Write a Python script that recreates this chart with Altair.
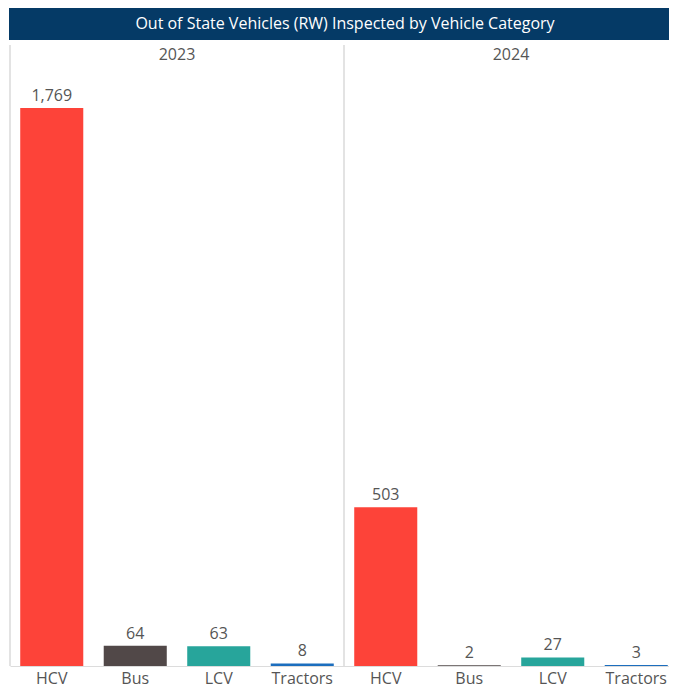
import altair as alt
import pandas as pd

title_text = ["Out of State Vehicles (RW) Inspected by Vehicle Category"]
year_labels = ["2023", "2024"]
years = ["2023", "2023", "2023", "2023", "2024", "2024", "2024", "2024"]
categories = ["HCV", "Bus", "LCV", "Tractors", "HCV", "Bus", "LCV", "Tractors"]
counts = [1769, 64, 63, 8, 503, 2, 27, 3]
cat_order = ["HCV", "Bus", "LCV", "Tractors"]
cat_colors = ["#FD4339", "#514848", "#27A59B", "#1C6EBE"]

df = pd.DataFrame({"Year": years, "Category": categories, "Count": counts})
df["Key"] = df["Year"] + "|" + df["Category"]
key_order = list(df["Key"])
ydf = pd.DataFrame({"Year": year_labels})
tdf = pd.DataFrame({"t": title_text})

FONT = "Open Sans"
GREY = "#555555"
W = 660
H = 600
XR = [1, 669]

title_bar = alt.Chart(tdf).mark_rect(color="#053A66").encode(
    x=alt.value(0), x2=alt.value(W + 8), y=alt.value(-58), y2=alt.value(-26)
)
title_txt = alt.Chart(tdf).mark_text(
    color="white", font=FONT, fontSize=16, align="center", baseline="middle"
).encode(text="t:N", x=alt.value(336), y=alt.value(-42))

yscale = alt.Scale(domain=year_labels, range=XR, paddingInner=0, paddingOuter=0)
sep = alt.Chart(ydf).mark_rule(color="#e3e3e3", strokeWidth=2).encode(
    x=alt.X("Year:N", scale=yscale, axis=None, bandPosition=0),
    y=alt.value(-21), y2=alt.value(H),
)
header = alt.Chart(ydf).mark_text(
    font=FONT, fontSize=16, color=GREY, align="center", baseline="middle"
).encode(
    x=alt.X("Year:N", scale=yscale, axis=None, bandPosition=0.5),
    y=alt.value(-11), text="Year:N",
)

kscale = alt.Scale(domain=key_order, range=XR, paddingInner=0.245, paddingOuter=0.1225)
yenc = alt.Y("Count:Q", scale=alt.Scale(domain=[0, 1902], nice=False), axis=None)

bars = alt.Chart(df).mark_bar().encode(
    x=alt.X("Key:N", sort=key_order, scale=kscale,
            axis=alt.Axis(title=None, labelAngle=0, ticks=False, domainColor="#dcdcdc",
                          labelFont=FONT, labelFontSize=16, labelColor=GREY,
                          labelPadding=4, labelExpr="split(datum.label, '|')[1]")),
    y=yenc,
    color=alt.Color("Category:N", scale=alt.Scale(domain=cat_order, range=cat_colors), legend=None),
)
labels = alt.Chart(df).mark_text(font=FONT, fontSize=16, color=GREY, baseline="bottom", dy=-4).encode(
    x=alt.X("Key:N", sort=key_order, scale=kscale, axis=None),
    y=yenc,
    text=alt.Text("Count:Q", format=","),
)

chart = alt.layer(title_bar, title_txt, sep, header, bars, labels).resolve_scale(
    x="independent"
).properties(
    width=W, height=H,
    autosize=alt.AutoSizeParams(type="none"),
    padding={"left": 1, "top": 58, "right": 0, "bottom": 23},
).configure_view(stroke="transparent")

chart.save("out.html", embed_options={"renderer": "svg", "actions": False})
